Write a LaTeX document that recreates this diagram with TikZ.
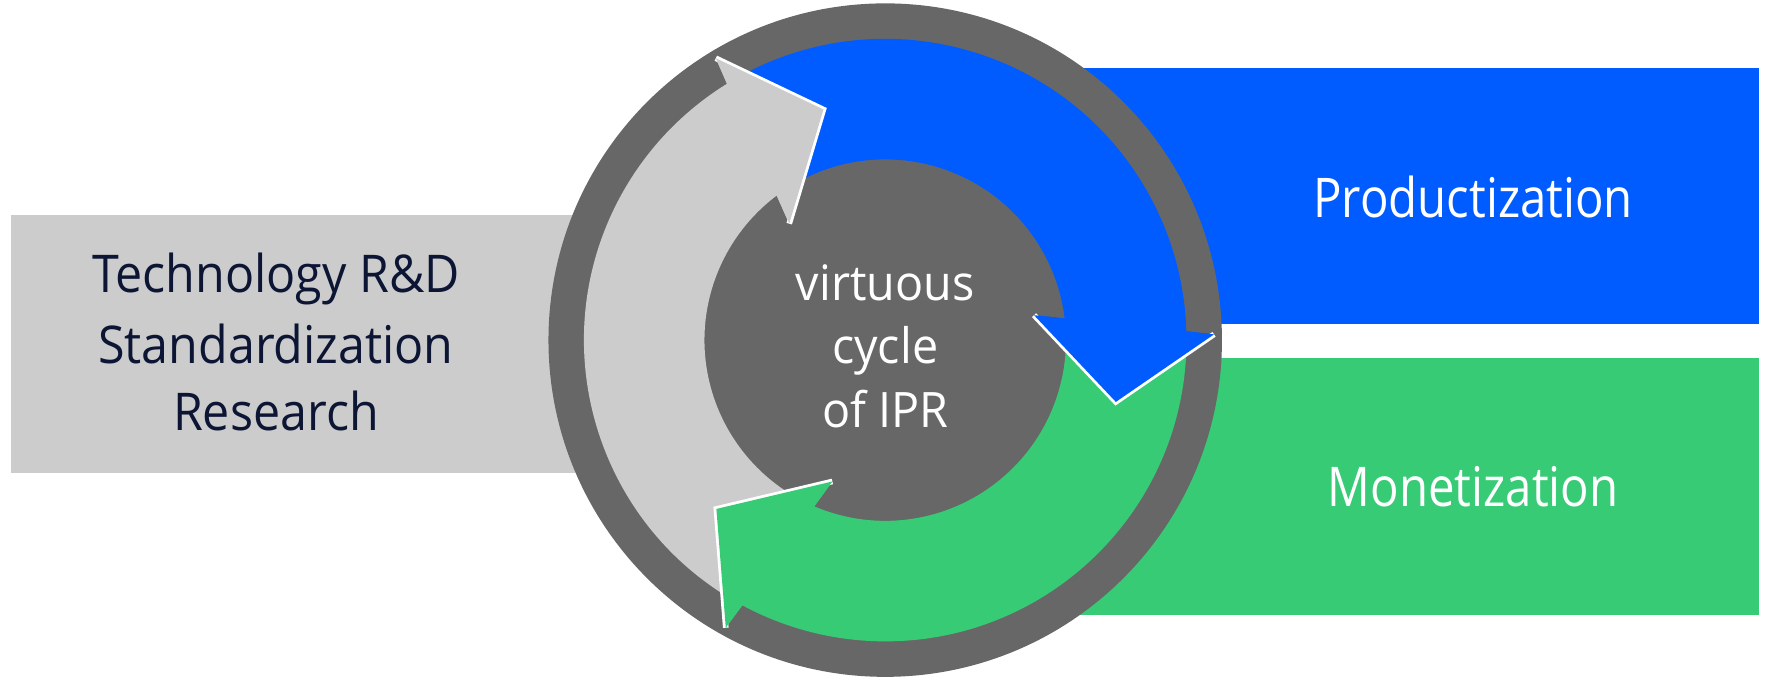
\documentclass[tikz,border=0pt]{standalone}
\usepackage{fontspec}
\setmainfont{Open Sans}
\newfontfamily\leftfont[FakeStretch=0.93]{Open Sans}
\newfontfamily\rightfont[FakeStretch=0.865]{Open Sans}
\newfontfamily\centerfont[FakeStretch=0.955]{Open Sans}
\definecolor{ringgray}{RGB}{103,103,103}
\definecolor{lgray}{RGB}{204,204,204}
\definecolor{pblue}{RGB}{0,92,255}
\definecolor{mgreen}{RGB}{56,203,118}
\definecolor{navy}{RGB}{12,22,52}
\begin{document}
\begin{tikzpicture}[x=1pt,y=1pt,
  lefttext/.style={anchor=base,inner sep=0pt,text=navy,font=\leftfont\fontsize{46.2}{60}\selectfont},
  righttext/.style={anchor=base,inner sep=0pt,text=white,font=\rightfont\fontsize{48.6}{60}\selectfont},
  centertext/.style={anchor=base,inner sep=0pt,text=white,font=\centerfont\fontsize{43.4}{56}\selectfont},
  headedge/.style={draw=white,line width=5pt,miter limit=10}]
\useasboundingbox (0,0) rectangle (1567.2,602);
% side boxes
\fill[lgray] (10,182) rectangle (786,411);
\fill[pblue] (786,314) rectangle (1562,542);
\fill[mgreen] (786,56) rectangle (1562,284);
% big ring disc
\fill[ringgray] (786,300) circle[radius=299];
\begin{scope}[shift={(786,300)}]
  % arrow bodies
  \foreach \t/\c in {105/lgray,-15/pblue,225/mgreen}{
    \pgfmathsetmacro\tail{\t+134.5}
    \pgfmathsetmacro\ona{\t+16.7}
    \pgfmathsetmacro\ina{\t+21.9}
    \fill[\c] (\tail:267.5) arc[start angle=\tail, end angle=\ona, radius=267.5]
      -- ({\t+16}:292) -- (\t:212) -- ({\t+24.5}:134) -- (\ina:160.5)
      arc[start angle=\ina, end angle=\tail, radius=160.5] -- cycle;
  }
  % arrow heads with white front edges
  \foreach \t/\c in {105/lgray,-15/pblue,225/mgreen}{
    \draw[headedge] ({\t+16}:292) -- (\t:212) -- ({\t+24.5}:134);
    \fill[\c] ({\t+16}:292) -- (\t:212) -- ({\t+24.5}:134) -- cycle;
  }
\end{scope}
% texts
\node[lefttext] (l1) at (245,342.6) {Technology R\&D};
\node[lefttext] (l2) at (245,279.5) {Standardization};
\node[lefttext] (l3) at (245,220) {Research};
\node[righttext] (p1) at (1308,409.2) {Productization};
\node[righttext] (m1) at (1308,152.7) {Monetization};
\node[centertext] (c1) at (786,335.5) {virtuous};
\node[centertext] (c2) at (786,279) {cycle};
\node[centertext] (c3) at (786,222) {of IPR};
\end{tikzpicture}
\end{document}
